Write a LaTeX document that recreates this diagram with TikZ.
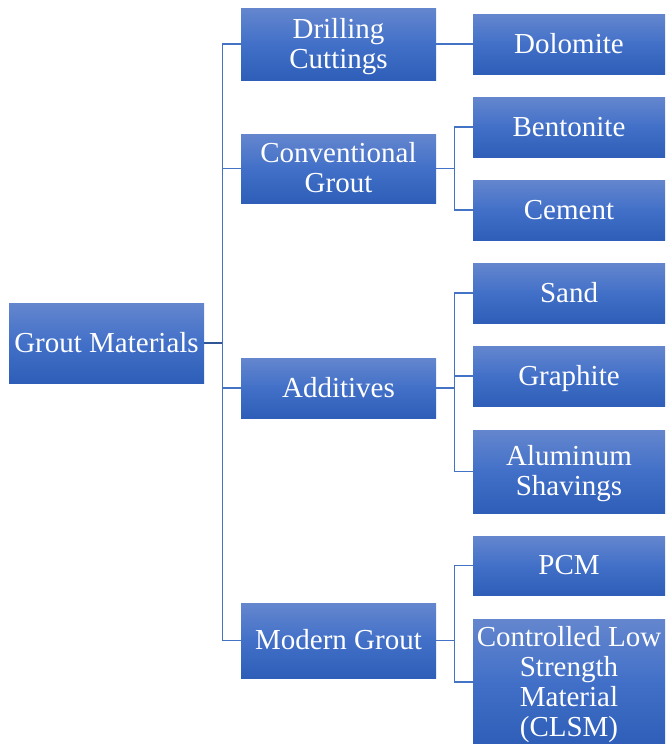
\documentclass[tikz,border=0pt]{standalone}
\usepackage{fontspec}
\setmainfont{Liberation Serif}
\newfontfamily\tnrfont{Liberation Serif}
\newcommand{\toprl}{\rule{0pt}{25pt}}
\newcommand{\botrl}{\rule[-7pt]{0pt}{7pt}}
\definecolor{boxtop}{RGB}{100,134,206}
\definecolor{boxmid}{RGB}{66,112,200}
\definecolor{boxbot}{RGB}{46,94,184}
\definecolor{linec}{RGB}{68,114,196}
\definecolor{rootline}{RGB}{47,85,151}
\begin{document}
\begin{tikzpicture}[x=1pt,y=-1pt,
  box/.style={rectangle, inner sep=0pt, top color=boxtop, bottom color=boxbot, middle color=boxmid,
    draw=none},
  lvone/.style={box, minimum width=195pt},
  lvtwo/.style={box, minimum width=192pt},
  txt/.style={text=white, align=center, inner sep=0pt, font=\tnrfont\fontsize{29}{30}\selectfont},
  conn/.style={draw=linec, line width=1.3pt},
  rootconn/.style={draw=rootline, line width=1.5pt}]
\useasboundingbox (0,0) rectangle (665,744);
% root
\node[lvone, minimum height=80pt] (root) at (106.5,343) {};
\node[txt] (roott) at (root.center) {\toprl\botrl Grout Materials};
% level 2
\node[lvone, minimum height=72pt] (dc) at (338.5,44) {};
\node[txt] (dct) at (dc.center) {\toprl Drilling\\\botrl Cuttings};
\node[lvone, minimum height=69pt] (cg) at (338.5,168.5) {};
\node[txt] (cgt) at (cg.center) {\toprl Conventional\\\botrl Grout};
\node[lvone, minimum height=60pt] (ad) at (338.5,388) {};
\node[txt] (adt) at (ad.center) {\toprl\botrl Additives};
\node[lvone, minimum height=75pt] (mg) at (338.5,640.5) {};
\node[txt] (mgt) at (mg.center) {\toprl\botrl Modern Grout};
% level 3
\node[lvtwo, minimum height=60pt] (dol) at (569,44) {};
\node[txt] (dolt) at (dol.center) {\toprl\botrl Dolomite};
\node[lvtwo, minimum height=60pt] (ben) at (569,127) {};
\node[txt] (bent) at (ben.center) {\toprl\botrl Bentonite};
\node[lvtwo, minimum height=60pt] (cem) at (569,210) {};
\node[txt] (cemt) at (cem.center) {\toprl\botrl Cement};
\node[lvtwo, minimum height=60pt] (san) at (569,293) {};
\node[txt] (sant) at (san.center) {\toprl\botrl Sand};
\node[lvtwo, minimum height=60pt] (gra) at (569,376) {};
\node[txt] (grat) at (gra.center) {\toprl\botrl Graphite};
\node[lvtwo, minimum height=83pt] (alu) at (569,471.5) {};
\node[txt] (alut) at (alu.center) {\toprl Aluminum\\\botrl Shavings};
\node[lvtwo, minimum height=59pt] (pcm) at (569,565.5) {};
\node[txt] (pcmt) at (pcm.center) {\toprl\botrl PCM};
\node[lvtwo, minimum height=126pt] (cls) at (569,682) {};
\node[txt] (clst) at (cls.center) {\toprl Controlled Low\\Strength\\Material\\\botrl (CLSM)};
% connectors root
\coordinate (trunk) at ([xshift=18pt]root.east);
\draw[rootconn] (root.east) -- (trunk);
\draw[conn] (trunk) |- (dc.west);
\draw[conn] (trunk) |- (cg.west);
\draw[conn] (trunk) |- (ad.west);
\draw[conn] (trunk) |- (mg.west);
% level 2 -> 3
\draw[conn] (dc.east) -- (dol.west);
\draw[conn] (cg.east) -- ++(18,0) |- (ben.west);
\draw[conn] (cg.east) -- ++(18,0) |- (cem.west);
\draw[conn] (ad.east) -- ++(18,0) |- (san.west);
\draw[conn] (ad.east) -- ++(18,0) |- (gra.west);
\draw[conn] (ad.east) -- ++(18,0) |- (alu.west);
\draw[conn] (mg.east) -- ++(18,0) |- (pcm.west);
\draw[conn] (mg.east) -- ++(18,0) |- (cls.west);
\end{tikzpicture}
\end{document}
